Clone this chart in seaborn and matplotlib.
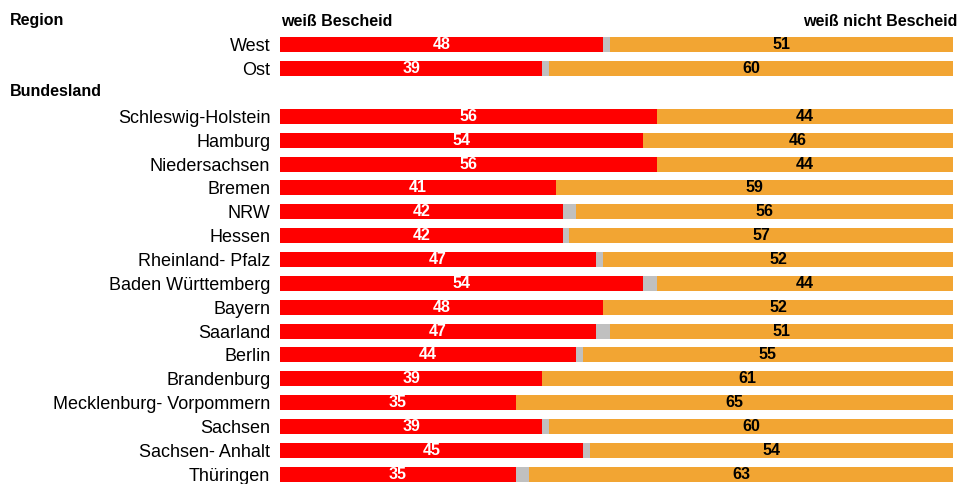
import matplotlib
matplotlib.use("Agg")
import matplotlib.pyplot as plt
import seaborn as sns
import pandas as pd

# Anteile in Prozent
regions = ["West", "Ost"]
region_knows = [48, 39]
region_gap = [1, 1]
region_not = [51, 60]

states = ["Schleswig-Holstein", "Hamburg", "Niedersachsen", "Bremen", "NRW", "Hessen",
          "Rheinland- Pfalz", "Baden Württemberg", "Bayern", "Saarland", "Berlin",
          "Brandenburg", "Mecklenburg- Vorpommern", "Sachsen", "Sachsen- Anhalt", "Thüringen"]
state_knows = [56, 54, 56, 41, 42, 42, 47, 54, 48, 47, 44, 39, 35, 39, 45, 35]
state_gap = [0, 0, 0, 0, 2, 1, 1, 2, 0, 2, 1, 0, 0, 1, 1, 2]
state_not = [44, 46, 44, 59, 56, 57, 52, 44, 52, 51, 55, 61, 65, 60, 54, 63]

sns.set_theme(style="white")
plt.rcParams['font.family'] = ['Liberation Sans', 'DejaVu Sans']
plt.rcParams['text.color'] = 'black'

df = pd.DataFrame({
    "name": regions + states,
    "knows": region_knows + state_knows,
    "gap": region_gap + state_gap,
    "not": region_not + state_not,
})
df["knows_gap"] = df["knows"] + df["gap"]
df["total"] = df["knows_gap"] + df["not"]

order = ["_region"] + regions + ["_bund"] + states

fig = plt.figure(figsize=(9.61, 4.84), dpi=100)
ax = fig.add_axes([280 / 961, 0, 673 / 961, 1])

red = "#FF0000"
orange = "#F2A533"
grey = "#C0C0C0"
bw = 0.63

# gestapelt: Gesamt (orange), dann rot+grau, dann rot obenauf
sns.barplot(data=df, x="total", y="name", order=order, orient="h", color=orange,
            width=bw, saturation=1, ax=ax, errorbar=None, linewidth=0)
sns.barplot(data=df, x="knows_gap", y="name", order=order, orient="h", color=grey,
            width=bw, saturation=1, ax=ax, errorbar=None, linewidth=0)
sns.barplot(data=df, x="knows", y="name", order=order, orient="h", color=red,
            width=bw, saturation=1, ax=ax, errorbar=None, linewidth=0)

ax.set_xlim(0, 100)
ax.set_ylim(19.41, -0.88)
ax.set_xlabel("")
ax.set_ylabel("")
ax.set_xticks([])
for s in ax.spines.values():
    s.set_visible(False)

ax.set_yticks(range(len(order)))
ax.set_yticklabels(["" if o.startswith("_") else o for o in order], fontsize=13)
ax.tick_params(axis="y", length=0, pad=7, labelcolor="black")

pos = {n: i for i, n in enumerate(order)}
for _, r in df.iterrows():
    y = pos[r["name"]]
    ax.text(r["knows"] / 2, y, str(r["knows"]), ha="center", va="center",
            color="white", fontsize=11.5, fontweight="bold")
    ax.text((r["knows_gap"] + r["total"]) / 2, y, str(r["not"]), ha="center", va="center",
            color="black", fontsize=11.5, fontweight="bold")

fig.text(10 / 961, 1 - 20 / 484, "Region", ha="left", va="center", fontsize=11.5, fontweight="bold")
fig.text(10 / 961, 1 - 92 / 484, "Bundesland", ha="left", va="center", fontsize=11.5, fontweight="bold")
fig.text(281 / 961, 1 - 22 / 484, "weiß Bescheid", ha="left", va="center", fontsize=11.5, fontweight="bold")
fig.text(957 / 961, 1 - 22 / 484, "weiß nicht Bescheid", ha="right", va="center", fontsize=11.5, fontweight="bold")

fig.savefig("out.png", dpi=100)
